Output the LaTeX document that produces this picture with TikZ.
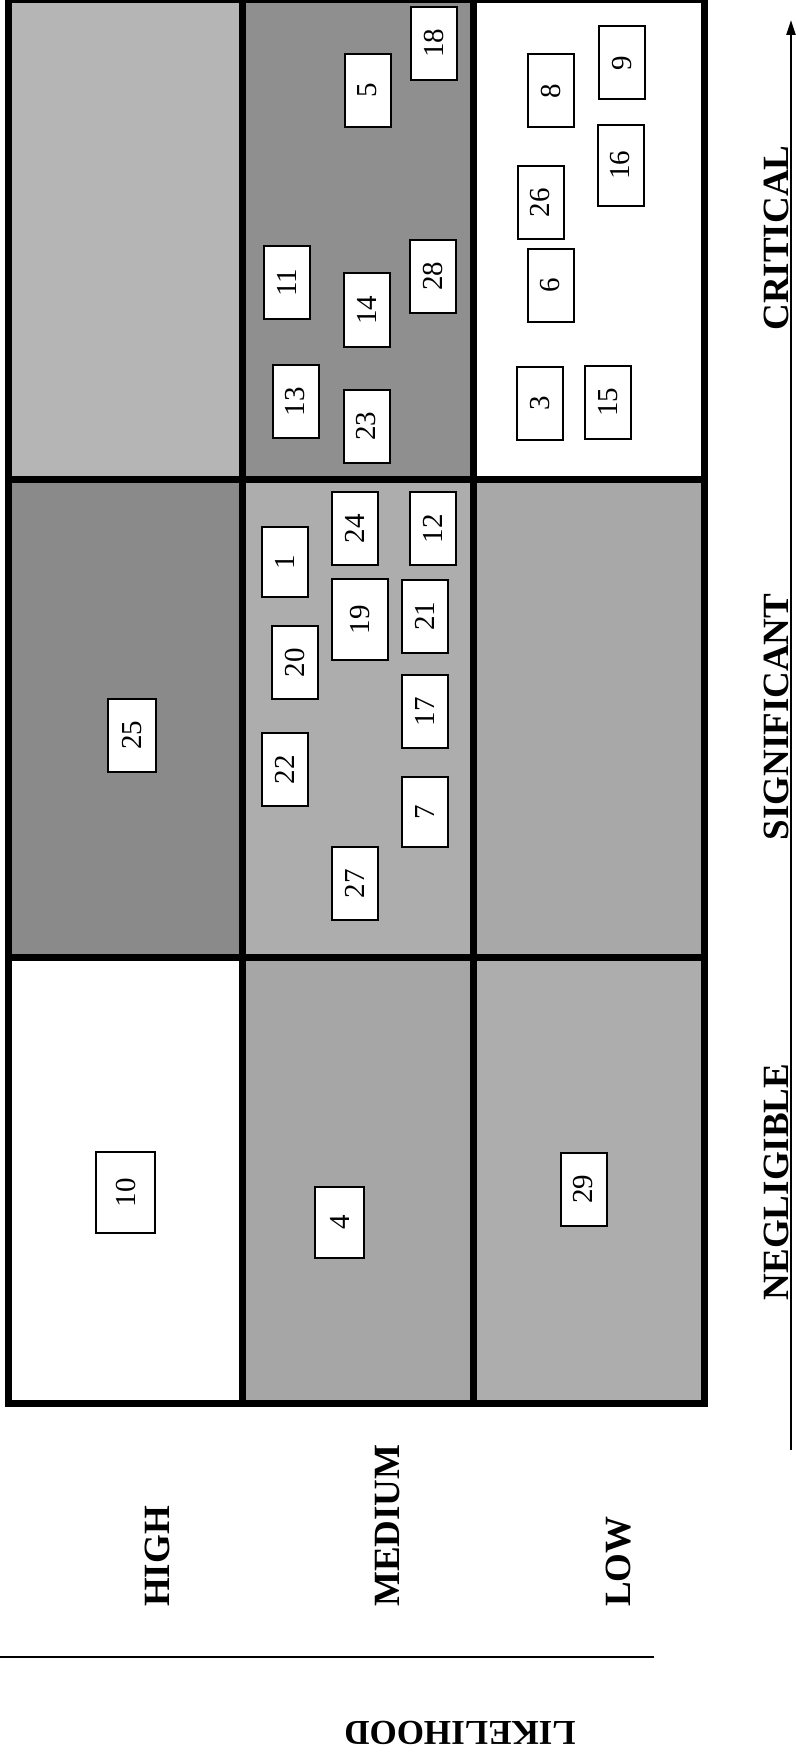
\documentclass[tikz,border=0pt]{standalone}
\usepackage{fontspec}
\setmainfont{Liberation Serif}
\usetikzlibrary{arrows.meta}
\definecolor{gA}{gray}{0.71}
\definecolor{gB}{gray}{0.56}
\definecolor{gC}{gray}{0.54}
\definecolor{gD}{gray}{0.68}
\definecolor{gE}{gray}{0.66}
\definecolor{gF}{gray}{0.65}
\definecolor{gG}{gray}{0.68}
\tikzset{
  rbox/.style={draw=black, line width=2pt, fill=white, rotate=90, inner sep=0pt,
    minimum width=73pt, minimum height=46pt, font=\fontsize{29}{29}\selectfont},
  axlab/.style={rotate=90, font=\fontsize{37}{37}\selectfont\bfseries, inner sep=0pt},
  gridline/.style={line width=7pt, black},
}
\begin{document}
\begin{tikzpicture}[x=1pt,y=-1pt]
\useasboundingbox (0,0) rectangle (795,1760);
% cell fills
\fill[gA] (8,0) rectangle (242,479);
\fill[gB] (242,0) rectangle (473,479);
\fill[white] (473,0) rectangle (704,479);
\fill[gC] (8,479) rectangle (242,957);
\fill[gD] (242,479) rectangle (473,957);
\fill[gE] (473,479) rectangle (704,957);
\fill[white] (8,957) rectangle (242,1403);
\fill[gF] (242,957) rectangle (473,1403);
\fill[gG] (473,957) rectangle (704,1403);
% grid
\draw[gridline] (8,0) rectangle (704,1403);
\draw[gridline] (242,0) -- (242,1403);
\draw[gridline] (473,0) -- (473,1403);
\draw[gridline] (8,479) -- (704,479);
\draw[gridline] (8,957) -- (704,957);
% boxes: CRITICAL row
\node[rbox] (b18) at (433.5,43.5) {18};
\node[rbox] (b5) at (367.5,90.5) {5};
\node[rbox] (b11) at (286.5,283) {11};
\node[rbox] (b14) at (366.5,310) {14};
\node[rbox] (b28) at (433,276.5) {28};
\node[rbox] (b13) at (295.5,401.5) {13};
\node[rbox] (b23) at (366.5,426) {23};
\node[rbox] (b26) at (540.5,203) {26};
\node[rbox] (b8) at (550.5,91) {8};
\node[rbox] (b9) at (622,63) {9};
\node[rbox, minimum width=81pt] (b16) at (620.5,165.5) {16};
\node[rbox] (b6) at (550.5,285.5) {6};
\node[rbox] (b3) at (540,403.5) {3};
\node[rbox] (b15) at (608,402) {15};
% SIGNIFICANT row
\node[rbox] (b24) at (355,528.5) {24};
\node[rbox] (b12) at (432.5,528.5) {12};
\node[rbox, minimum width=70pt] (b1) at (285,562) {1};
\node[rbox, minimum width=81pt, minimum height=56pt] (b19) at (360,619.5) {19};
\node[rbox] (b21) at (425,616) {21};
\node[rbox] (b20) at (295,662.5) {20};
\node[rbox] (b17) at (425,711.5) {17};
\node[rbox, minimum height=48pt] (b25) at (132,735) {25};
\node[rbox] (b22) at (284.5,769.5) {22};
\node[rbox, minimum width=70pt] (b7) at (425,812) {7};
\node[rbox] (b27) at (354.5,883.5) {27};
% NEGLIGIBLE row
\node[rbox, minimum width=81pt, minimum height=59pt] (b10) at (125.5,1192.5) {10};
\node[rbox, minimum width=71pt, minimum height=49pt] (b4) at (339.5,1222.5) {4};
\node[rbox] (b29) at (583.5,1189) {29};
% consequence labels
\node[axlab] (lcrit) at (776,238) {CRITICAL};
\node[axlab] (lsig) at (776,717) {SIGNIFICANT};
\node[axlab] (lneg) at (776,1182) {NEGLIGIBLE};
% consequence axis arrow
\coordinate (abot) at (791,1450);
\coordinate (atop) at (791,20);
\draw[line width=2.5pt, -{Triangle[width=9pt,length=15pt]}] (abot) -- (atop);
% likelihood labels
\node[axlab, anchor=west] (lhigh) at (157,1607) {HIGH};
\node[axlab, anchor=west] (lmed) at (388,1607) {MEDIUM};
\node[axlab, anchor=west] (llow) at (619,1607) {LOW};
% likelihood axis line
\coordinate (lleft) at (0,1657);
\coordinate (lright) at (654,1657);
\draw[line width=2.5pt] (lleft) -- (lright);
\node[rotate=180, font=\fontsize{35}{35}\selectfont\bfseries, inner sep=0pt] (llik) at (460,1733) {LIKELIHOOD};
\end{tikzpicture}
\end{document}
